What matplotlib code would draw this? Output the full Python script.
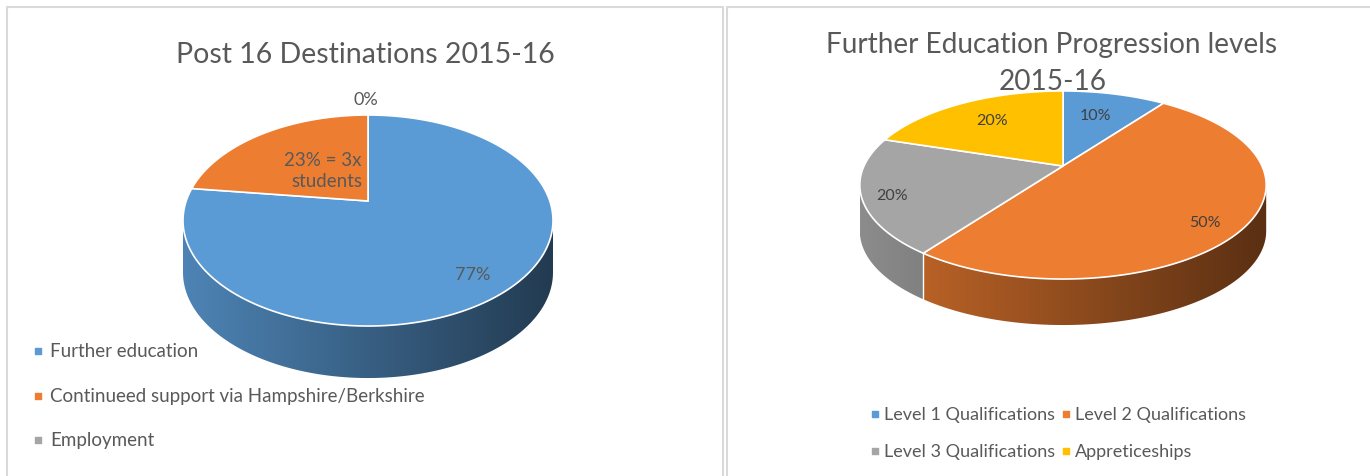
import numpy as np
import matplotlib
matplotlib.use("Agg")
import matplotlib.pyplot as plt
from matplotlib.patches import Polygon

plt.rcParams['font.family'] = ['Lato', 'DejaVu Sans']

# data
left_title = "Post 16 Destinations 2015-16"
left_cats = ["Further education", "Continueed support via Hampshire/Berkshire", "Employment"]
left_vals = [77, 23, 0]
left_labels = ["77%", "23% = 3x\nstudents", "0%"]

right_title = ["Further Education Progression levels", "2015-16"]
right_cats = ["Level 1 Qualifications", "Level 2 Qualifications",
              "Level 3 Qualifications", "Appreticeships"]
right_vals = [10, 50, 20, 20]
right_labels = ["10%", "50%", "20%", "20%"]

BLUE, ORANGE, GRAY, YELLOW = "#5b9bd5", "#ed7d31", "#a5a5a5", "#ffc000"
TEXT = "#595959"


def rim(cx, cy, A, B, k, th):
    # perspective view of a flat disc; angle in degrees, clockwise from 12 o'clock
    t = np.radians(th)
    u, v = np.sin(t), np.cos(t)
    d = 1 + k * v
    return cx + A * u / d, cy - B * v / d


def pie3d(ax, vals, colors, cx, cy, A, B, k, depth):
    total = float(sum(vals))
    edges = np.concatenate([[0], np.cumsum(vals)]) / total * 360.0
    halfw = A / np.sqrt(1 - k * k)
    left, right = cx - halfw, cx + halfw
    th_r = np.degrees(np.arccos(-k))
    th_l = 360 - th_r
    # side walls (visible front part)
    for i, col in enumerate(colors):
        t0, t1 = max(edges[i], th_r), min(edges[i + 1], th_l)
        if t1 <= t0:
            continue
        th = np.linspace(t0, t1, 150)
        x, y = rim(cx, cy, A, B, k, th)
        xs = np.concatenate([x, x[::-1]])
        ys = np.concatenate([y, y[::-1] + depth])
        poly = Polygon(np.column_stack([xs, ys]), closed=True, facecolor="none",
                       edgecolor="none")
        ax.add_patch(poly)
        base = np.array(matplotlib.colors.to_rgb(col))
        gx = np.linspace(0, 1, 256)
        f = 0.85 - 0.47 * gx
        img = (base[None, :] * f[:, None])[None, :, :]
        im = ax.imshow(img, extent=[left, right, cy + 200, cy - 200],
                       aspect="auto", interpolation="bilinear", zorder=2)
        im.set_clip_path(poly)
        if t0 > th_r:
            ax.plot([x[0], x[0]], [y[0], y[0] + depth], color="white", lw=1, zorder=3)
    # top face
    for i, col in enumerate(colors):
        t0, t1 = edges[i], edges[i + 1]
        if t1 - t0 <= 0:
            continue
        th = np.linspace(t0, t1, 200)
        x, y = rim(cx, cy, A, B, k, th)
        pts = np.column_stack([np.concatenate([[cx], x]), np.concatenate([[cy], y])])
        ax.add_patch(Polygon(pts, closed=True, facecolor=col, edgecolor="white",
                             lw=1.2, zorder=4))
    return edges


fig = plt.figure(figsize=(13.7, 4.77), dpi=100)
ax = fig.add_axes([0, 0, 1, 1])
ax.set_xlim(0, 1370)
ax.set_ylim(477, 0)
ax.axis("off")

# panel borders
for x0, x1 in [(7, 723), (727, 1372)]:
    ax.plot([x0, x0, x1, x1], [480, 8, 8, 480], color="#d9d9d9", lw=1.5, zorder=1)

# ---- left chart
pie3d(ax, left_vals, [BLUE, ORANGE, GRAY], 368, 202, 181.8, 101.9, 0.185, 52)
ax.text(365, 55, left_title, ha="center", va="center", fontsize=20.5, color=TEXT)
ax.text(473, 275, left_labels[0], ha="center", va="center", fontsize=13, color=TEXT, zorder=6)
ax.text(362, 171, left_labels[1], ha="right", va="center", fontsize=13.5, color=TEXT,
        linespacing=1.3, zorder=6)
ax.text(366, 100, left_labels[2], ha="center", va="center", fontsize=13, color=TEXT, zorder=6)
for i, (cat, col) in enumerate(zip(left_cats, [BLUE, ORANGE, GRAY])):
    yy = 352 + i * 44.5
    ax.scatter([38], [yy], marker="s", s=18, color=col, zorder=6)
    ax.text(50, yy, cat, ha="left", va="center", fontsize=13.5, color=TEXT)

# ---- right chart
pie3d(ax, right_vals, [BLUE, ORANGE, GRAY, YELLOW], 1063, 167, 199, 90.2, 0.202, 46)
ax.text(1052, 45, right_title[0], ha="center", va="center", fontsize=20.2, color=TEXT, zorder=7)
ax.text(1053, 82, right_title[1], ha="center", va="center", fontsize=20.2, color=TEXT, zorder=7)
for lab, (xx, yy) in zip(right_labels, [(1095, 116), (1205, 223), (892, 196), (992, 121)]):
    ax.text(xx, yy, lab, ha="center", va="center", fontsize=11.5, color="#404040", zorder=6)
leg_pos = [(875, 415), (1066, 415), (875, 452), (1066, 452)]
for cat, col, (xx, yy) in zip(right_cats, [BLUE, ORANGE, GRAY, YELLOW], leg_pos):
    ax.scatter([xx], [yy], marker="s", s=18, color=col, zorder=6)
    ax.text(xx + 9, yy, cat, ha="left", va="center", fontsize=13, color=TEXT)

fig.savefig("out.png", dpi=100)
